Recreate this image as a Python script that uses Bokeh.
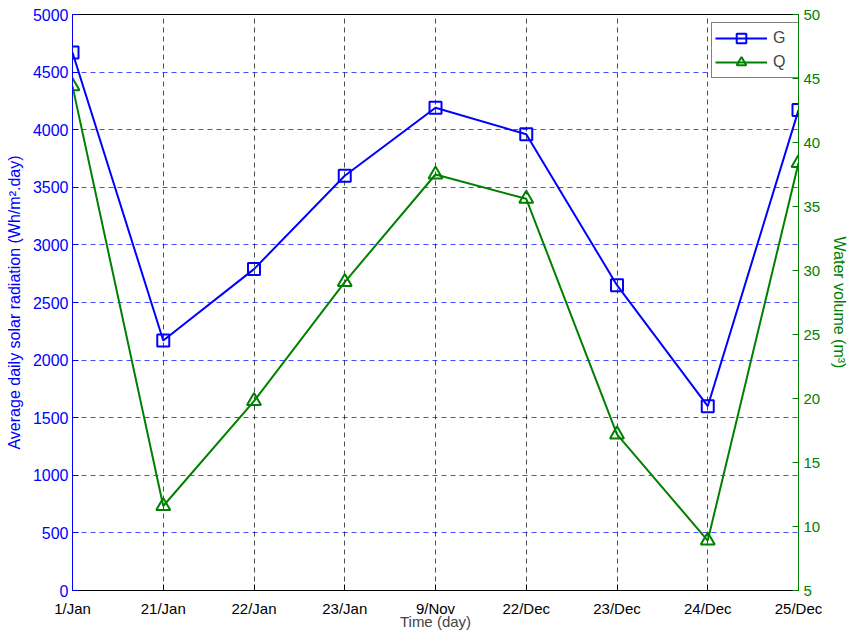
from bokeh.plotting import figure
from bokeh.models import Range1d, LinearAxis, FixedTicker, Legend, LegendItem
from bokeh.embed import file_html
from bokeh.resources import INLINE

categories = ["1/Jan", "21/Jan", "22/Jan", "23/Jan", "9/Nov", "22/Dec", "23/Dec", "24/Dec", "25/Dec"]
G_values = [4670, 2170, 2790, 3600, 4190, 3960, 2650, 1600, 4170]
Q_values = [44.4, 11.6, 19.8, 29.1, 37.5, 35.6, 17.2, 8.9, 38.4]
left_ticks = list(range(0, 5001, 500))
right_ticks = list(range(5, 51, 5))

BLUE = "#0000ff"
GREEN = "#008000"
FONT = "Liberation Sans"

xs = list(range(len(categories)))

p = figure(width=851, height=633, output_backend="svg", toolbar_location=None,
           x_range=Range1d(0, len(categories) - 1), y_range=Range1d(0, 5000),
           min_border_left=72, min_border_right=51, min_border_top=14, min_border_bottom=43)
p.extra_y_ranges = {"q": Range1d(5, 50)}

p.outline_line_color = "black"
p.outline_line_width = 1
p.background_fill_color = "white"

# x axis
xa = p.xaxis[0]
xa.ticker = FixedTicker(ticks=xs)
xa.major_label_overrides = {i: c for i, c in enumerate(categories)}
xa.axis_label = "Time (day)"
xa.axis_line_color = "black"
xa.major_tick_line_color = "black"
xa.major_tick_in = 6
xa.major_tick_out = 0
xa.minor_tick_line_color = None
xa.major_label_text_font = FONT
xa.major_label_text_font_size = "15px"
xa.major_label_text_color = "black"
xa.major_label_standoff = 9
xa.axis_label_text_font = FONT
xa.axis_label_text_font_size = "15px"
xa.axis_label_text_font_style = "normal"
xa.axis_label_standoff = -7

# left axis
ya = p.yaxis[0]
ya.ticker = FixedTicker(ticks=left_ticks)
ya.axis_label = "Average daily solar radiation (Wh/m\u00b2.day)"
ya.axis_line_color = BLUE
ya.major_tick_line_color = BLUE
ya.major_tick_in = 6
ya.major_tick_out = 0
ya.minor_tick_line_color = None
ya.major_label_text_color = BLUE
ya.major_label_text_font = FONT
ya.major_label_text_font_size = "16px"
ya.major_label_standoff = 4
ya.axis_label_text_color = BLUE
ya.axis_label_text_font = FONT
ya.axis_label_text_font_size = "16px"
ya.axis_label_text_font_style = "normal"
ya.axis_label_standoff = 7

# right axis
ra = LinearAxis(y_range_name="q", ticker=FixedTicker(ticks=right_ticks))
ra.axis_label = "Water volume (m\u00b3)"
ra.axis_line_color = GREEN
ra.major_tick_line_color = GREEN
ra.major_tick_in = 6
ra.major_tick_out = 0
ra.minor_tick_line_color = None
ra.major_label_text_color = GREEN
ra.major_label_text_font = FONT
ra.major_label_text_font_size = "15px"
ra.major_label_standoff = 5
ra.axis_label_text_color = GREEN
ra.axis_label_text_font = FONT
ra.axis_label_text_font_size = "16px"
ra.axis_label_text_font_style = "normal"
ra.axis_label_standoff = 8
p.add_layout(ra, "right")

# grids
p.xgrid.ticker = FixedTicker(ticks=xs[1:-1])
p.xgrid.grid_line_color = "#222222"
p.xgrid.grid_line_alpha = 0.8
p.xgrid.grid_line_dash = "5 4"
p.xgrid.grid_line_width = 1
p.ygrid.ticker = FixedTicker(ticks=left_ticks[1:-1])
p.ygrid.grid_line_color = BLUE
p.ygrid.grid_line_alpha = 0.7
p.ygrid.grid_line_dash = "5 4"
p.ygrid.grid_line_width = 1

# series
gl = p.line(xs, G_values, line_color=BLUE, line_width=2)
gs = p.scatter(xs, G_values, marker="square", size=12, fill_color=None,
               line_color=BLUE, line_width=2)
ql = p.line(xs, Q_values, line_color=GREEN, line_width=2, y_range_name="q")
qs = p.scatter(xs, Q_values, marker="triangle", size=14, fill_color=None,
               line_color=GREEN, line_width=2, y_range_name="q")

legend = Legend(items=[LegendItem(label="G", renderers=[gl, gs]),
                       LegendItem(label="Q", renderers=[ql, qs])],
                location=(639, 512))
legend.border_line_color = "black"
legend.border_line_width = 1
legend.background_fill_color = "white"
legend.background_fill_alpha = 1
legend.label_text_font = FONT
legend.label_text_font_size = "16px"
legend.glyph_width = 52
legend.glyph_height = 24
legend.label_standoff = 6
legend.label_width = 26
legend.padding = 3
legend.spacing = 0
legend.margin = 0
p.add_layout(legend, "center")

open("out.html", "w").write(file_html(p, INLINE))
